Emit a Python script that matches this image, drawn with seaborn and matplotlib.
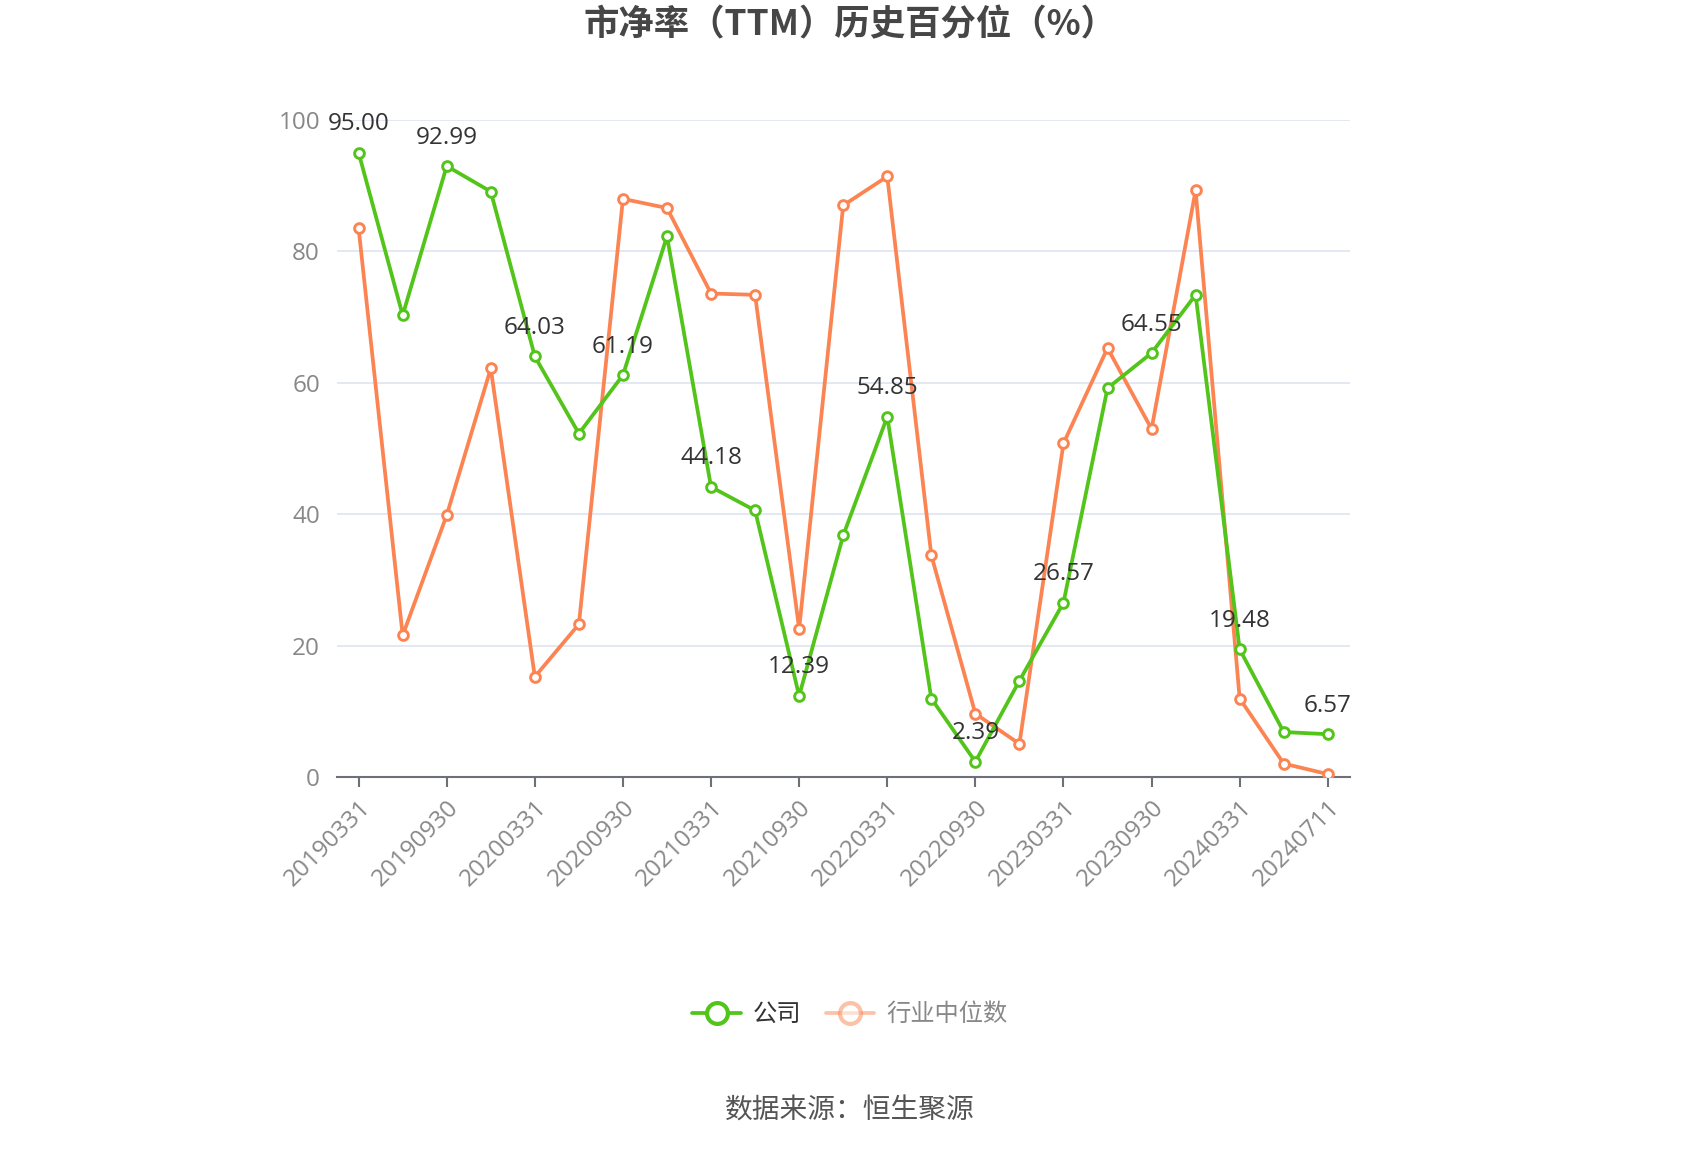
import matplotlib
matplotlib.use("Agg")
import matplotlib.pyplot as plt
import seaborn as sns
import pandas as pd
import numpy as np
from matplotlib.lines import Line2D

dates = ["20190331", "20190630", "20190930", "20191231", "20200331", "20200630",
         "20200930", "20201231", "20210331", "20210630", "20210930", "20211231",
         "20220331", "20220630", "20220930", "20221231", "20230331", "20230630",
         "20230930", "20231231", "20240331", "20240630", "20240711"]
company = [95.00, 70.3, 92.99, 89.1, 64.03, 52.3, 61.19, 82.3, 44.18, 40.6, 12.39,
           36.8, 54.85, 12.0, 2.39, 14.7, 26.57, 59.2, 64.55, 73.4, 19.48, 6.9, 6.57]
industry = [83.5, 21.6, 39.9, 62.2, 15.3, 23.3, 88.0, 86.6, 73.6, 73.4, 22.6,
            87.0, 91.4, 33.8, 9.7, 5.1, 50.8, 65.3, 53.0, 89.3, 12.0, 2.1, 0.5]
series_names = ["公司", "行业中位数"]
title = "市净率（TTM）历史百分位（%）"
source = "数据来源：恒生聚源"

GREEN = "#52c41a"
ORANGE = "#fc8452"
NUMFONT = ['Open Sans', 'Noto Sans CJK SC', 'DejaVu Sans']

sns.set_theme(style="white")
plt.rcParams['font.family'] = ['Noto Sans CJK SC', 'DejaVu Sans']

fig = plt.figure(figsize=(17, 11.5), dpi=100)
ax = fig.add_axes([0.198, 0.324, 0.596, 0.5717])

df = pd.DataFrame({"x": np.arange(len(dates)), "company": company, "industry": industry})

sns.lineplot(data=df, x="x", y="industry", ax=ax, color=ORANGE, linewidth=2.7,
             marker="o", markersize=7, markerfacecolor="white",
             markeredgecolor=ORANGE, markeredgewidth=2.1, zorder=3)
sns.lineplot(data=df, x="x", y="company", ax=ax, color=GREEN, linewidth=2.7,
             marker="o", markersize=7, markerfacecolor="white",
             markeredgecolor=GREEN, markeredgewidth=2.1, zorder=4)

for i in range(0, len(dates), 2):
    ax.annotate(f"{company[i]:.2f}", (i, company[i]), xytext=(0, 20.5),
                textcoords="offset points", ha="center", va="center",
                fontsize=17.5, color="#333333", zorder=6, family=NUMFONT)

ax.set_xlim(-0.5, len(dates) - 0.5)
ax.set_ylim(0, 100)
ax.set_yticks([0, 20, 40, 60, 80, 100])
ax.set_yticklabels(["0", "20", "40", "60", "80", "100"], fontsize=17.5, color="#888888",
                   family=NUMFONT)
ax.set_xticks(range(0, len(dates), 2))
ax.set_xticklabels([dates[i] for i in range(0, len(dates), 2)], rotation=45,
                   ha="right", rotation_mode="anchor", fontsize=17.5, color="#888888",
                   family=NUMFONT)
ax.set_xlabel("")
ax.set_ylabel("")

ax.grid(axis="y", color="#e0e6f1", linewidth=1.3)
ax.grid(axis="x", visible=False)
for s in ["top", "right", "left"]:
    ax.spines[s].set_visible(False)
ax.spines["bottom"].set_color("#6e7079")
ax.spines["bottom"].set_linewidth(1.5)
ax.tick_params(axis="x", which="both", bottom=True, length=7, width=1.5,
               color="#6e7079", pad=6)
ax.tick_params(axis="y", length=0, pad=12)

fig.text(0.5, 0.978, title, ha="center", va="center", fontsize=25.5,
         fontweight="bold", color="#464646")

handles = [
    Line2D([0], [0], color=GREEN, linewidth=2.7, marker="o", markersize=15,
           markerfacecolor="white", markeredgecolor=GREEN, markeredgewidth=3),
    Line2D([0], [0], color=ORANGE, alpha=0.5, linewidth=2.7, marker="o", markersize=15,
           markerfacecolor="white", markeredgecolor=ORANGE, markeredgewidth=3),
]
leg = fig.legend(handles, series_names, loc="center", bbox_to_anchor=(0.5, 0.118),
                 ncol=2, frameon=False, fontsize=17.5, handlelength=2.0,
                 columnspacing=1.0, handletextpad=0.5)
leg.get_texts()[0].set_color("#333333")
leg.get_texts()[1].set_color("#888888")

fig.text(0.5, 0.034, source, ha="center", va="center", fontsize=20, color="#555555")

fig.savefig("out.png", dpi=100)
